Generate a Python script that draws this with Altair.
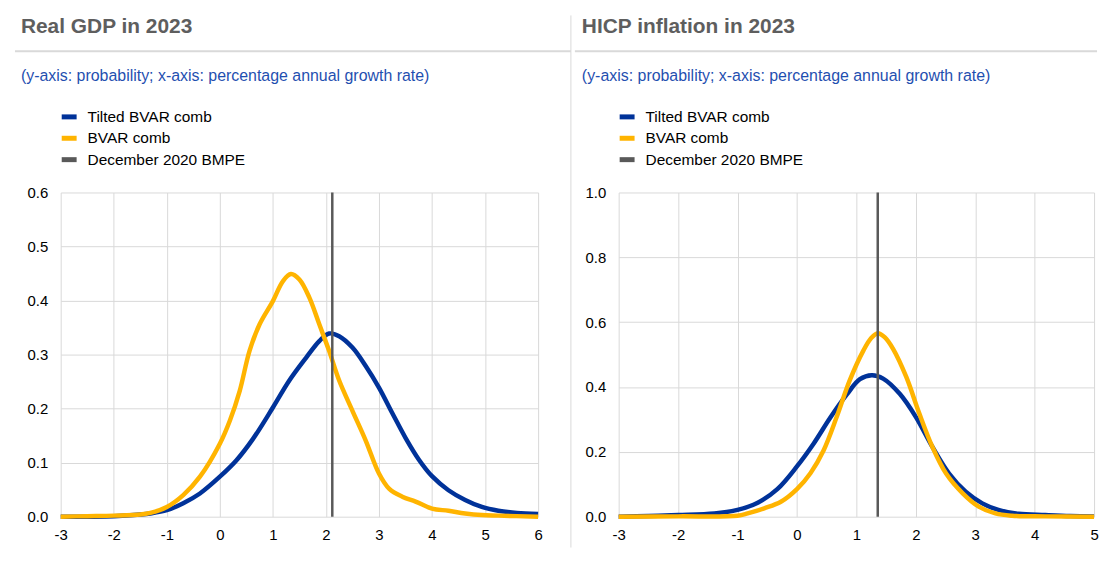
import altair as alt
import pandas as pd

FONT = "Liberation Sans"
series_names = ["Tilted BVAR comb", "BVAR comb", "December 2020 BMPE"]
series_colors = ["#003299", "#FFB400", "#595959"]

panel_titles = ["Real GDP in 2023", "HICP inflation in 2023"]
subtitle = "(y-axis: probability; x-axis: percentage annual growth rate)"

# ---- Real GDP in 2023 ----
gdp_x_ticks = [-3, -2, -1, 0, 1, 2, 3, 4, 5, 6]
gdp_y_ticks = [0.0, 0.1, 0.2, 0.3, 0.4, 0.5, 0.6]
gdp_tilted_x = [-3, -2, -1.5, -1.31, -1, -0.69, -0.375, 0, 0.31, 0.625, 1.0,
                1.31, 1.625, 1.875, 2.06, 2.25, 2.5, 2.75, 3.0, 3.25, 3.5, 3.75,
                4.0, 4.31, 4.625, 4.94, 5.25, 5.6, 6.0]
gdp_tilted_y = [0.0, 0.001, 0.004, 0.006, 0.012, 0.025, 0.043, 0.074, 0.104,
                0.144, 0.202, 0.252, 0.294, 0.325, 0.339, 0.334, 0.313, 0.279,
                0.239, 0.192, 0.146, 0.106, 0.075, 0.049, 0.031, 0.018, 0.011,
                0.007, 0.005]
gdp_bvar_x = [-3, -2.5, -2, -1.5, -1.31, -1, -0.69, -0.375, 0, 0.19, 0.375,
              0.56, 0.75, 1.0, 1.19, 1.34, 1.5, 1.69, 1.875, 2.06, 2.25, 2.5,
              2.75, 3.0, 3.19, 3.44, 3.69, 4.0, 4.31, 4.625, 4.94, 5.25, 6.0]
gdp_bvar_y = [0.0, 0.001, 0.002, 0.004, 0.007, 0.018, 0.040, 0.074, 0.135,
              0.178, 0.233, 0.307, 0.356, 0.399, 0.436, 0.449, 0.439, 0.405,
              0.356, 0.307, 0.252, 0.196, 0.141, 0.080, 0.052, 0.037, 0.028,
              0.015, 0.011, 0.006, 0.003, 0.002, 0.0]
gdp_bmpe = [2.12]

# ---- HICP inflation in 2023 ----
hicp_x_ticks = [-3, -2, -1, 0, 1, 2, 3, 4, 5]
hicp_y_ticks = [0.0, 0.2, 0.4, 0.6, 0.8, 1.0]
hicp_tilted_x = [-3, -2.5, -2, -1.39, -1, -0.66, -0.33, 0, 0.28, 0.56, 0.84,
                 1.06, 1.26, 1.45, 1.73, 2.0, 2.28, 2.56, 2.84, 3.12, 3.39,
                 3.73, 4.18, 4.6, 5.0]
hicp_tilted_y = [0.0, 0.002, 0.005, 0.010, 0.021, 0.043, 0.085, 0.155, 0.225,
                 0.305, 0.377, 0.424, 0.436, 0.426, 0.379, 0.308, 0.215, 0.133,
                 0.077, 0.041, 0.021, 0.009, 0.005, 0.002, 0.001]
hicp_bvar_x = [-3, -2, -1, -0.83, -0.55, -0.27, 0, 0.23, 0.45, 0.67, 0.89,
               1.12, 1.25, 1.36, 1.48, 1.62, 1.84, 2.06, 2.28, 2.51, 2.79,
               3.06, 3.34, 3.62, 4.18, 5.0]
hicp_bvar_y = [0.0, 0.001, 0.003, 0.010, 0.026, 0.046, 0.085, 0.135, 0.205,
               0.308, 0.421, 0.513, 0.551, 0.566, 0.553, 0.517, 0.431, 0.318,
               0.215, 0.133, 0.072, 0.031, 0.010, 0.003, 0.001, 0.0]
hicp_bmpe = [1.36]

one_row = alt.Data(values=[{"k": 1}])
hyphen_labels = "datum.value < 0 ? '-' + abs(datum.value) : '' + datum.value"


def panel(title, x_ticks, y_ticks, tx, ty, bx, by, bmpe, width, height,
          left_off, right_end, divider):
    xs = alt.Scale(domain=[x_ticks[0], x_ticks[-1]], nice=False, zero=False)
    ys = alt.Scale(domain=[y_ticks[0], y_ticks[-1]], nice=False)
    x_axis = alt.Axis(values=x_ticks, title=None, grid=True, gridColor="#d9d9d9",
                      gridWidth=1, domain=False, ticks=False, labelFontSize=15,
                      labelFont=FONT, labelColor="#000000", labelPadding=11,
                      labelFlush=False, labelExpr=hyphen_labels)
    y_axis = alt.Axis(values=y_ticks, title=None, grid=True, gridColor="#d9d9d9",
                      gridWidth=1, domain=False, ticks=False, labelFontSize=15,
                      labelFont=FONT, labelColor="#000000", labelPadding=13,
                      format=".1f")
    df_t = pd.DataFrame({"x": tx, "y": ty})
    df_b = pd.DataFrame({"x": bx, "y": by})
    df_r = pd.DataFrame({"x": bmpe})

    tilted = alt.Chart(df_t).mark_line(
        color=series_colors[0], strokeWidth=4.5, interpolate="catmull-rom"
    ).encode(x=alt.X("x:Q", scale=xs, axis=x_axis),
             y=alt.Y("y:Q", scale=ys, axis=y_axis))
    bvar = alt.Chart(df_b).mark_line(
        color=series_colors[1], strokeWidth=4.5, interpolate="catmull-rom"
    ).encode(x=alt.X("x:Q", scale=xs), y=alt.Y("y:Q", scale=ys))
    rule = alt.Chart(df_r).mark_rule(
        color=series_colors[2], strokeWidth=2.5
    ).encode(x=alt.X("x:Q", scale=xs))

    layers = [tilted, bvar, rule]

    text_x = -40 if divider else -37
    layers.append(alt.Chart(one_row).mark_text(
        text=title, align="left", baseline="middle", fontSize=21,
        fontWeight="bold", color="#5e5e5e", font=FONT
    ).encode(x=alt.value(text_x), y=alt.value(-166)))
    layers.append(alt.Chart(one_row).mark_rule(
        color="#d9d9d9", strokeWidth=2
    ).encode(x=alt.value(left_off), x2=alt.value(right_end), y=alt.value(-142)))
    layers.append(alt.Chart(one_row).mark_text(
        text=subtitle, align="left", baseline="middle", fontSize=16,
        color="#1f4fb0", font=FONT
    ).encode(x=alt.value(text_x), y=alt.value(-117)))
    if divider:
        layers.append(alt.Chart(one_row).mark_rule(
            color="#d9d9d9", strokeWidth=1
        ).encode(x=alt.value(right_end), y=alt.value(-178), y2=alt.value(357)))

    for i, name in enumerate(series_names):
        ly = -76 + 21.5 * i
        layers.append(alt.Chart(one_row).mark_rect(
            color=series_colors[i]
        ).encode(x=alt.value(1), x2=alt.value(16),
                 y=alt.value(ly - 2.5), y2=alt.value(ly + 2.5)))
        layers.append(alt.Chart(one_row).mark_text(
            text=name, align="left", baseline="middle", fontSize=15.5,
            color="#000000", font=FONT
        ).encode(x=alt.value(27), y=alt.value(ly)))

    return alt.layer(*layers).properties(width=width, height=height)


left = panel(panel_titles[0], gdp_x_ticks, gdp_y_ticks, gdp_tilted_x,
             gdp_tilted_y, gdp_bvar_x, gdp_bvar_y, gdp_bmpe, 480, 326,
             -46, 513, True)
right = panel(panel_titles[1], hicp_x_ticks, hicp_y_ticks, hicp_tilted_x,
              hicp_tilted_y, hicp_bvar_x, hicp_bvar_y, hicp_bmpe, 478, 326,
              -44, 481, False)

pad = {"left": 5, "top": 5, "right": 0, "bottom": 0}
chart = alt.hconcat(left, right, spacing=0, padding=pad).configure(
    padding=pad
).configure_view(stroke="transparent")

chart.save("out.html", embed_options={"renderer": "svg", "actions": False})
